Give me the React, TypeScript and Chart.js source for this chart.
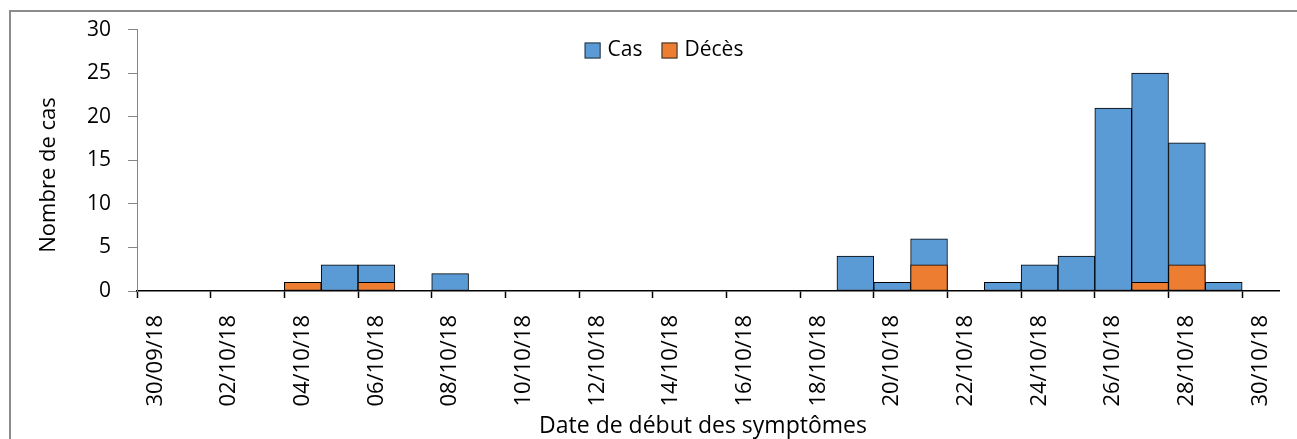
import React, { useEffect, useRef } from "react";
import { Chart, registerables } from "chart.js";

Chart.register(...registerables);

const dates = [
  "30/09/18", "01/10/18", "02/10/18", "03/10/18", "04/10/18", "05/10/18", "06/10/18", "07/10/18",
  "08/10/18", "09/10/18", "10/10/18", "11/10/18", "12/10/18", "13/10/18", "14/10/18", "15/10/18",
  "16/10/18", "17/10/18", "18/10/18", "19/10/18", "20/10/18", "21/10/18", "22/10/18", "23/10/18",
  "24/10/18", "25/10/18", "26/10/18", "27/10/18", "28/10/18", "29/10/18", "30/10/18",
];
const cas = [0, 0, 0, 0, 1, 3, 3, 0, 2, 0, 0, 0, 0, 0, 0, 0, 0, 0, 0, 4, 1, 6, 0, 1, 3, 4, 21, 25, 17, 1, 0];
const deces = [0, 0, 0, 0, 1, 0, 1, 0, 0, 0, 0, 0, 0, 0, 0, 0, 0, 0, 0, 0, 0, 3, 0, 0, 0, 0, 0, 1, 3, 0, 0];
const yTicks = [0, 5, 10, 15, 20, 25, 30];
const xTitle = "Date de début des symptômes";
const yTitle = "Nombre de cas";

const FONT = "'Open Sans', sans-serif";

const framePlugin = {
  id: "frame",
  afterDraw(chart: any) {
    const ctx = chart.ctx;
    const { width, height } = chart;
    ctx.save();
    // outer frame (top and left edges visible)
    ctx.strokeStyle = "#8c8c8c";
    ctx.lineWidth = 2;
    ctx.beginPath();
    ctx.moveTo(10, height);
    ctx.lineTo(10, 11);
    ctx.lineTo(width, 11);
    ctx.stroke();

    // axis titles
    ctx.fillStyle = "#000";
    ctx.font = `23px ${FONT}`;
    ctx.textAlign = "center";
    ctx.textBaseline = "alphabetic";
    ctx.fillText(xTitle, 703, 433);
    ctx.save();
    ctx.translate(49, 175);
    ctx.rotate(-Math.PI / 2);
    ctx.font = `22px ${FONT}`;
    ctx.textBaseline = "middle";
    ctx.fillText(yTitle, 0, 0);
    ctx.restore();

    // legend
    ctx.font = `21px ${FONT}`;
    ctx.textAlign = "left";
    ctx.textBaseline = "middle";
    const ds = chart.data.datasets;
    const box = 16;
    const gap = 7;
    const itemGap = 19;
    const widths = ds.map((d: any) => box + gap + ctx.measureText(d.label).width);
    const total = widths.reduce((a: number, b: number) => a + b, 0) + itemGap * (ds.length - 1);
    let x = 664 - total / 2;
    const cy = 50.5;
    ds.forEach((d: any, i: number) => {
      ctx.fillStyle = d.backgroundColor;
      ctx.fillRect(x, cy - box / 2, box, box);
      ctx.strokeStyle = "#333";
      ctx.lineWidth = 1;
      ctx.strokeRect(x + 0.5, cy - box / 2 + 0.5, box - 1, box - 1);
      ctx.fillStyle = "#000";
      ctx.fillText(d.label, x + box + gap, cy);
      x += widths[i] + itemGap;
    });
    ctx.restore();
  },
};

export default function App() {
  const ref = useRef<HTMLCanvasElement>(null);
  useEffect(() => {
    const prevMargin = document.body.style.margin;
    document.body.style.margin = "0";
    const chart = new Chart(ref.current!, {
      type: "bar",
      data: {
        labels: dates,
        datasets: [
          {
            label: "Cas",
            data: cas,
            backgroundColor: "#5B9BD5",
            borderColor: "#000000",
            borderWidth: 1,
            borderSkipped: false,
            order: 1,
          },
          {
            label: "Décès",
            data: deces,
            backgroundColor: "#ED7D31",
            borderColor: "#000000",
            borderWidth: 1,
            borderSkipped: false,
            order: 0,
          },
        ],
      },
      options: {
        animation: false,
        responsive: false,
        maintainAspectRatio: false,
        datasets: {
          bar: { grouped: false, barPercentage: 1, categoryPercentage: 1 },
        },
        layout: { padding: { top: 27, right: 18, left: 0, bottom: 0 } },
        plugins: {
          tooltip: { enabled: false },
          legend: { display: false },
        },
        scales: {
          x: {
            offset: true,
            grid: {
              offset: true,
              drawOnChartArea: false,
              drawTicks: true,
              tickLength: 7,
              tickWidth: 1.5,
              color: (c: any) => (c.index !== undefined && c.index % 2 === 0 ? "#000" : "rgba(0,0,0,0)"),
            },
            border: { color: "#000", width: 1.5 },
            ticks: {
              autoSkip: false,
              minRotation: 90,
              maxRotation: 90,
              padding: 17,
              color: "#000",
              font: { family: FONT, size: 22 },
              callback: (_v: any, i: number) => (i % 2 === 0 ? dates[i] : ""),
            },
            afterFit: (s: any) => {
              s.height = 439 - 291;
              s.paddingLeft = 0;
              s.paddingRight = 0;
            },
          },
          y: {
            min: 0,
            max: 30,
            afterBuildTicks: (s: any) => {
              s.ticks = yTicks.map((v) => ({ value: v }));
            },
            grid: {
              drawOnChartArea: false,
              drawTicks: true,
              tickLength: 9,
              color: "#868686",
            },
            border: { color: "#868686", width: 1 },
            ticks: {
              padding: 17,
              color: "#000",
              font: { family: FONT, size: 21 },
            },
            afterFit: (s: any) => {
              s.width = 137;
            },
          },
        },
      },
      plugins: [framePlugin],
    });
    return () => {
      chart.destroy();
      document.body.style.margin = prevMargin;
    };
  }, []);
  return (
    <div style={{ position: "fixed", left: 0, top: 0, width: 1297, height: 439, background: "#fff" }}>
      <canvas ref={ref} width={1297} height={439} style={{ display: "block" }} />
    </div>
  );
}
